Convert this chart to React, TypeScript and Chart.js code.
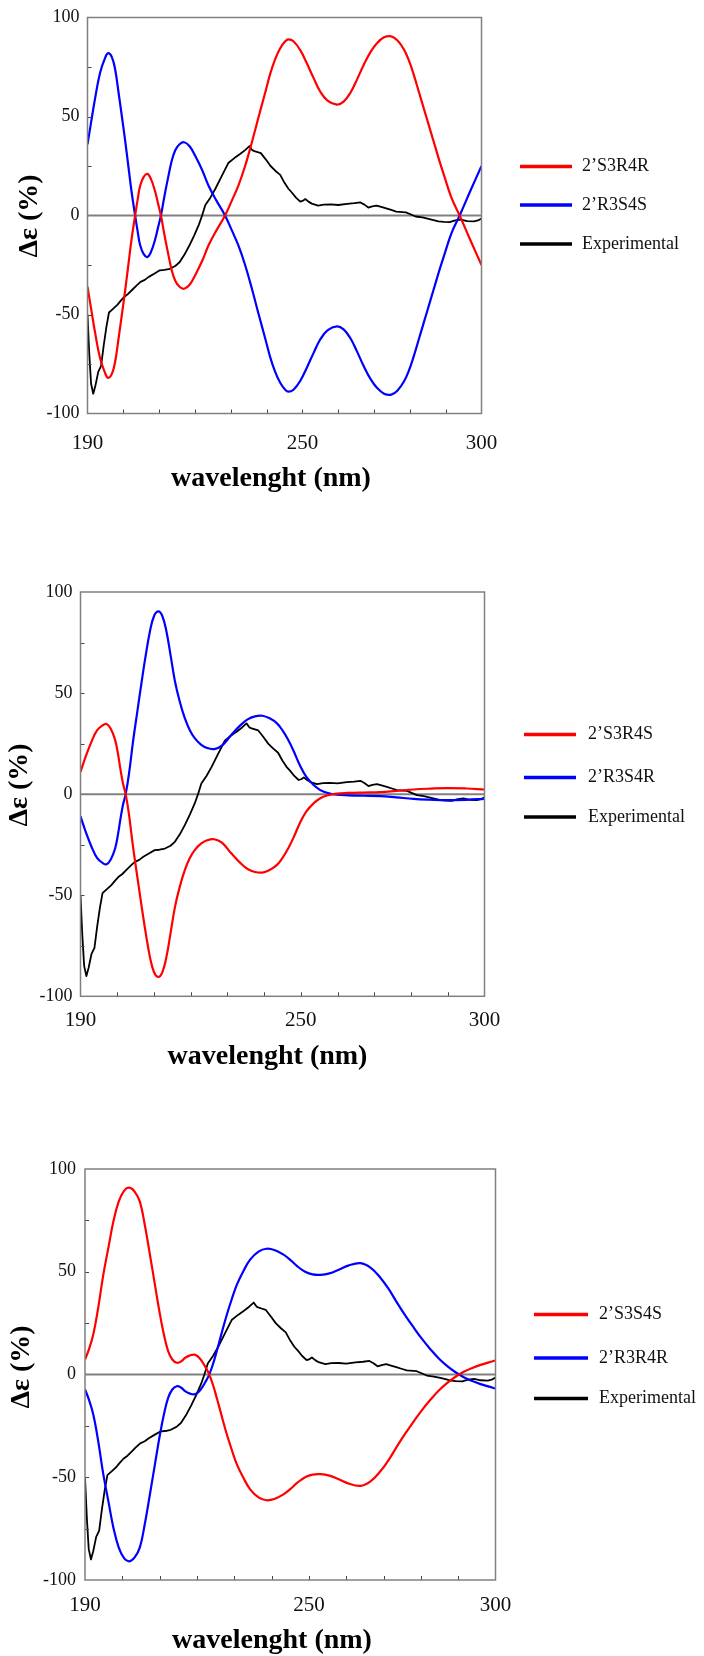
import React, { useEffect, useRef } from 'react';
import { Chart, registerables } from 'chart.js';

Chart.register(...registerables);

// ---------- data ----------
const wavelengthLabels = [190, 250, 300];
const deltaEpsTicks = [-100, -50, 0, 50, 100];

// experimental CD spectrum (same in all three panels)
const expWavelength = [190, 190.5, 191, 191.6, 192.2, 193, 193.8, 194.5, 195.3, 196, 196.6, 197.5, 198.4, 199.3, 200.3, 201.4, 202.5, 203.6, 204.8, 206, 207.1, 208.5, 210.2, 211.5, 213, 214.5, 215.7, 217, 218.4, 219.8, 221.1, 222, 222.9, 224.3, 225.7, 227.5, 229.3, 231, 232.5, 234, 235.2, 236, 236.6, 237.5, 238.4, 239.7, 241.1, 242.5, 243.8, 245, 246.1, 247.1, 248.2, 249.4, 250.2, 250.8, 251.7, 252.6, 254.4, 256, 258, 260, 262.5, 264.5, 266.2, 267.3, 268.4, 269.5, 270.7, 272, 273.4, 274.8, 276.2, 278.9, 280.3, 281.6, 283.5, 285.2, 286.6, 288, 289.5, 291.1, 292.7, 294.3, 296, 297.9, 299, 300];
const expDeltaEps = [-50, -70, -85, -90, -86, -79, -76, -66, -56, -49, -48, -46.5, -45, -43, -41, -39.5, -37.5, -35.5, -33.5, -32.5, -31, -29.5, -27.7, -27.5, -26.9, -25.5, -23.6, -20, -15.3, -10, -4.6, 0, 5.3, 9, 13.5, 20, 26.5, 29, 30.9, 33, 35, 33, 32.5, 32, 31.5, 28.5, 25, 22.5, 20.5, 16.5, 13.5, 11.5, 9, 7, 7.5, 8.3, 7, 6, 5, 5.5, 5.6, 5.3, 5.9, 6.2, 6.6, 5.5, 4, 4.6, 5, 4.3, 3.6, 2.8, 2, 1.6, 0.5, -0.5, -1, -1.7, -2.3, -3, -3.2, -3.3, -2.5, -2.1, -2.8, -3, -2.5, -1.5];

// panel 1
const p1Wavelength = [190, 191, 192.1, 193.5, 195, 195.8, 196.8, 197.7, 198.6, 199.6, 200.5, 201.4, 202.3, 203.3, 204, 204.7, 205.7, 206.7, 207.7, 208.9, 209.7, 210.5, 211.5, 212.6, 213.5, 214.5, 215.7, 217, 218.5, 220.1, 222, 223.8, 226, 228.4, 230.3, 232.2, 234, 235.9, 237.8, 239.6, 241, 242.4, 243.8, 245.2, 246.1, 247.5, 249.4, 251.2, 253.1, 255, 257, 259.6, 261.5, 263.4, 265.2, 267.1, 269, 270.8, 272.8, 274.8, 276.5, 278.3, 279.7, 281.1, 282.5, 283.9, 285.3, 286.7, 288.1, 289.5, 291.6, 293.9, 296.9, 300];
const p1S3R4R = [-36, -47, -59, -72, -80, -82, -80, -74, -63, -50, -38, -25, -12, 0, 8, 15, 19.5, 21, 18.5, 12, 6, 0, -10, -20, -27.5, -33, -36, -37, -35, -30, -23, -15, -7.5, 0, 7.5, 15.5, 25, 37, 50, 62, 71.5, 79, 84.5, 88, 89, 88, 83.5, 77, 69.5, 62.5, 58, 56, 57.5, 62, 68.5, 76, 82.5, 87, 90, 90.5, 88.5, 84, 78.5, 71, 62.5, 54, 45.5, 37, 28.5, 20.5, 9, 0, -12.5, -25];
const p1R3S4S = [36, 47, 59, 72, 80, 82, 80, 74, 63, 50, 38, 25, 12, 0, -8, -15, -19.5, -21, -18.5, -12, -6, 0, 10, 20, 27.5, 33, 36, 37, 35, 30, 23, 15, 7.5, 0, -7.5, -15.5, -25, -37, -50, -62, -71.5, -79, -84.5, -88, -89, -88, -83.5, -77, -69.5, -62.5, -58, -56, -57.5, -62, -68.5, -76, -82.5, -87, -90, -90.5, -88.5, -84, -78.5, -71, -62.5, -54, -45.5, -37, -28.5, -20.5, -9, 0, 12.5, 25];

// panel 2
const p2Wavelength = [190, 191.5, 193, 194.5, 196, 197.1, 198.2, 199.4, 200.2, 200.9, 201.6, 202.3, 203.2, 204.3, 205.4, 206.6, 207.7, 208.9, 210, 211.2, 212.3, 213.4, 214.5, 215.7, 217, 218.4, 219.8, 221.1, 222.8, 224.5, 226.4, 228.5, 231.1, 233.5, 235.5, 237.5, 239.5, 241.5, 243.5, 245, 246.5, 248, 249.8, 251.5, 253.5, 255.3, 257.1, 259.8, 263, 267, 271.6, 276, 280.7, 285, 289.8, 295, 300];
const p2S3R4S = [11, 19, 26, 31.5, 34, 34.7, 32.5, 27, 20, 12, 5, 0, -10, -26, -40, -55, -68, -80.5, -88, -90.4, -88, -80.5, -69, -56, -46, -37.6, -31.5, -27.7, -24.5, -22.8, -22.3, -24, -29.4, -34, -37, -38.5, -38.8, -37.5, -35, -31.5, -27, -21.5, -14, -8.5, -4.5, -2, -0.7, 0.3, 0.6, 0.8, 1, 1.6, 2.3, 2.7, 3, 2.8, 2.3];
const p2R3S4R = [-11, -19, -26, -31.5, -34, -34.7, -32.5, -27, -20, -12, -5, 0, 10, 26, 40, 55, 68, 80.5, 88, 90.4, 88, 80.5, 69, 56, 46, 37.6, 31.5, 27.7, 24.5, 22.8, 22.3, 24, 29.4, 34, 37, 38.5, 38.8, 37.5, 35, 31.5, 27, 21.5, 14, 8.5, 4.5, 2, 0.7, -0.3, -0.6, -0.8, -1, -1.6, -2.3, -2.7, -3, -2.8, -2.3];

// panel 3
const p3Wavelength = [190, 191, 192.2, 193.5, 194.9, 196.3, 197.6, 199, 200.5, 201.9, 203.3, 204.7, 206, 207.4, 208.8, 210.1, 211.2, 212.3, 213.4, 214.6, 215.7, 216.8, 218, 219.3, 220.3, 221.3, 222.2, 223.1, 224.2, 225.3, 226.6, 228, 229.3, 230.7, 232.5, 234.3, 236.5, 238.6, 240.9, 243.2, 245, 247, 249, 251, 253.1, 255.5, 258, 260.5, 263.8, 266.5, 269.2, 271.4, 273.6, 275.8, 278.1, 280.3, 282.6, 284.8, 287, 289.2, 291.5, 293.8, 296, 298, 300];
const p3S3S4S = [7.3, 12, 19.4, 32, 48.5, 62, 74.4, 84, 89.5, 90.9, 89, 84.1, 73, 58.3, 43, 29.1, 19, 11.3, 7.3, 5.7, 6.3, 8.1, 9.2, 9.7, 8.7, 6.5, 3.8, 0.8, -4.5, -11.3, -20, -29.1, -36.5, -43.7, -50.5, -56, -59.8, -61.2, -60.5, -58.3, -55.8, -52.5, -50, -48.7, -48.5, -49.2, -51, -53, -54.2, -52, -47, -41.5, -35, -28.8, -22.8, -17.3, -12.2, -7.8, -4.2, -1.2, 1.3, 3.2, 4.7, 5.8, 6.8];
const p3R3R4R = [-7.3, -12, -19.4, -32, -48.5, -62, -74.4, -84, -89.5, -90.9, -89, -84.1, -73, -58.3, -43, -29.1, -19, -11.3, -7.3, -5.7, -6.3, -8.1, -9.2, -9.7, -8.7, -6.5, -3.8, -0.8, 4.5, 11.3, 20, 29.1, 36.5, 43.7, 50.5, 56, 59.8, 61.2, 60.5, 58.3, 55.8, 52.5, 50, 48.7, 48.5, 49.2, 51, 53, 54.2, 52, 47, 41.5, 35, 28.8, 22.8, 17.3, 12.2, 7.8, 4.2, 1.2, -1.3, -3.2, -4.7, -5.8, -6.8];

const expLabel = 'Experimental';

// ---------- layout (positions / styles) ----------
const SERIF = '"Liberation Serif", "Times New Roman", serif';
const RED = '#ff0000';
const BLUE = '#0000ff';
const BLACK = '#000000';

type PanelLayout = {
  top: number; height: number;
  left: number; right: number; plotTop: number; plotBottom: number;
  xTickPad: number; yTickPad: number;
  xTitleX: number; xTitleY: number; yTitleX: number; yTitleY: number;
  legendX1: number; legendX2: number; legendTextX: number; legendY: number[];
};

const layouts: PanelLayout[] = [
  { top: 0, height: 540, left: 87.5, right: 481.5, plotTop: 17.5, plotBottom: 413.5, xTickPad: 19.5, yTickPad: 8,
    xTitleX: 271, xTitleY: 479, yTitleX: 30, yTitleY: 216,
    legendX1: 520, legendX2: 572, legendTextX: 582, legendY: [166.5, 205, 244] },
  { top: 540, height: 560, left: 80.5, right: 484.5, plotTop: 52, plotBottom: 456.3, xTickPad: 14, yTickPad: 8,
    xTitleX: 267.5, xTitleY: 516.5, yTitleX: 20, yTitleY: 245,
    legendX1: 524, legendX2: 576, legendTextX: 588, legendY: [194.5, 237.5, 277] },
  { top: 1100, height: 556, left: 85, right: 495.5, plotTop: 69, plotBottom: 480, xTickPad: 15, yTickPad: 9,
    xTitleX: 272, xTitleY: 541, yTitleX: 22, yTitleY: 267,
    legendX1: 534, legendX2: 588, legendTextX: 599, legendY: [214.5, 258, 298.5] },
];

type SeriesSpec = { label: string; xs: number[]; ys: number[]; color: string; smooth: boolean };

const panelSeries: SeriesSpec[][] = [
  [
    { label: '2’S3R4R', xs: p1Wavelength, ys: p1S3R4R, color: RED, smooth: true },
    { label: '2’R3S4S', xs: p1Wavelength, ys: p1R3S4S, color: BLUE, smooth: true },
    { label: expLabel, xs: expWavelength, ys: expDeltaEps, color: BLACK, smooth: false },
  ],
  [
    { label: '2’S3R4S', xs: p2Wavelength, ys: p2S3R4S, color: RED, smooth: true },
    { label: '2’R3S4R', xs: p2Wavelength, ys: p2R3S4R, color: BLUE, smooth: true },
    { label: expLabel, xs: expWavelength, ys: expDeltaEps, color: BLACK, smooth: false },
  ],
  [
    { label: '2’S3S4S', xs: p3Wavelength, ys: p3S3S4S, color: RED, smooth: true },
    { label: '2’R3R4R', xs: p3Wavelength, ys: p3R3R4R, color: BLUE, smooth: true },
    { label: expLabel, xs: expWavelength, ys: expDeltaEps, color: BLACK, smooth: false },
  ],
];

function makeDecor(L: PanelLayout) {
  return {
    id: 'decor',
    beforeDatasetsDraw(chart: any) {
      const { ctx, chartArea: a, scales } = chart;
      const y0 = scales.y.getPixelForValue(0);
      ctx.save();
      ctx.strokeStyle = '#808080';
      ctx.lineWidth = 2;
      ctx.beginPath();
      ctx.moveTo(a.left, y0);
      ctx.lineTo(a.right, y0);
      ctx.stroke();
      ctx.restore();
    },
    afterDatasetsDraw(chart: any) {
      const { ctx, chartArea: a, scales } = chart;
      ctx.save();
      ctx.strokeStyle = '#444';
      ctx.lineWidth = 1;
      ctx.beginPath();
      for (let v = 200; v < 300; v += 10) {
        const px = Math.round(scales.x.getPixelForValue(v)) + 0.5;
        ctx.moveTo(px, a.bottom);
        ctx.lineTo(px, a.bottom - 4);
      }
      for (let v = -75; v <= 75; v += 25) {
        if (v === 0) continue;
        const py = Math.round(scales.y.getPixelForValue(v)) + 0.5;
        ctx.moveTo(a.left, py);
        ctx.lineTo(a.left + 4, py);
      }
      ctx.stroke();
      ctx.strokeStyle = '#808080';
      ctx.lineWidth = 1.5;
      ctx.strokeRect(a.left, a.top, a.right - a.left, a.bottom - a.top);
      ctx.restore();
    },
    afterDraw(chart: any) {
      const { ctx } = chart;
      ctx.save();
      ctx.fillStyle = '#000';
      ctx.font = `bold 28px ${SERIF}`;
      ctx.textAlign = 'center';
      ctx.textBaseline = 'middle';
      ctx.fillText('wavelenght (nm)', L.xTitleX, L.xTitleY);
      ctx.save();
      ctx.translate(L.yTitleX, L.yTitleY);
      ctx.rotate(-Math.PI / 2);
      ctx.font = `bold 28px ${SERIF}`;
      ctx.fillText('Δε (%)', 0, 0);
      ctx.restore();
      chart.data.datasets.forEach((ds: any, i: number) => {
        const y = L.legendY[i];
        ctx.strokeStyle = ds.borderColor;
        ctx.lineWidth = 3.5;
        ctx.beginPath();
        ctx.moveTo(L.legendX1, y);
        ctx.lineTo(L.legendX2, y);
        ctx.stroke();
        ctx.fillStyle = '#111';
        ctx.font = `18px ${SERIF}`;
        ctx.textAlign = 'left';
        ctx.textBaseline = 'middle';
        ctx.fillText(ds.label, L.legendTextX, y);
      });
      ctx.restore();
    },
  };
}

function Panel({ index }: { index: number }) {
  const ref = useRef<HTMLCanvasElement>(null);
  const L = layouts[index];
  useEffect(() => {
    if (!ref.current) return;
    const series = panelSeries[index];
    const chart = new Chart(ref.current, {
      type: 'line',
      data: {
        datasets: series.map((s) => ({
          label: s.label,
          data: s.xs.map((x, i) => ({ x, y: s.ys[i] })),
          borderColor: s.color,
          backgroundColor: s.color,
          borderWidth: s.smooth ? 2.2 : 1.8,
          pointRadius: 0,
          fill: false,
          tension: s.smooth ? 0.4 : 0,
          cubicInterpolationMode: 'default',
          borderJoinStyle: 'round',
        })),
      },
      options: {
        responsive: false,
        animation: false,
        events: [],
        layout: { padding: { left: 0, top: L.plotTop, right: 704 - L.right, bottom: 0 } },
        plugins: { legend: { display: false }, tooltip: { enabled: false } },
        scales: {
          x: {
            type: 'linear',
            min: 190,
            max: 300,
            grid: { display: false, drawTicks: false },
            border: { display: false },
            afterBuildTicks: (scale: any) => {
              scale.ticks = wavelengthLabels.map((v) => ({ value: v }));
            },
            afterFit: (scale: any) => {
              scale.height = L.height - L.plotBottom;
            },
            ticks: {
              autoSkip: false,
              maxRotation: 0,
              padding: L.xTickPad,
              color: '#111',
              font: { family: SERIF, size: 21, lineHeight: 1 },
            },
          },
          y: {
            type: 'linear',
            min: -100,
            max: 100,
            grid: { display: false, drawTicks: false },
            border: { display: false },
            afterBuildTicks: (scale: any) => {
              scale.ticks = deltaEpsTicks.map((v) => ({ value: v }));
            },
            afterFit: (scale: any) => {
              scale.width = L.left;
            },
            ticks: {
              padding: L.yTickPad,
              color: '#111',
              font: { family: SERIF, size: 18, lineHeight: 1 },
            },
          },
        },
      },
      plugins: [makeDecor(L)],
    } as any);
    return () => chart.destroy();
  }, [index]);
  return (
    <canvas
      ref={ref}
      width={704}
      height={L.height}
      style={{ position: 'absolute', left: 0, top: L.top, width: 704, height: L.height, display: 'block' }}
    />
  );
}

export default function App() {
  return (
    <div style={{ position: 'absolute', left: 0, top: 0, width: 704, height: 1656, background: '#fff' }}>
      <Panel index={0} />
      <Panel index={1} />
      <Panel index={2} />
    </div>
  );
}
